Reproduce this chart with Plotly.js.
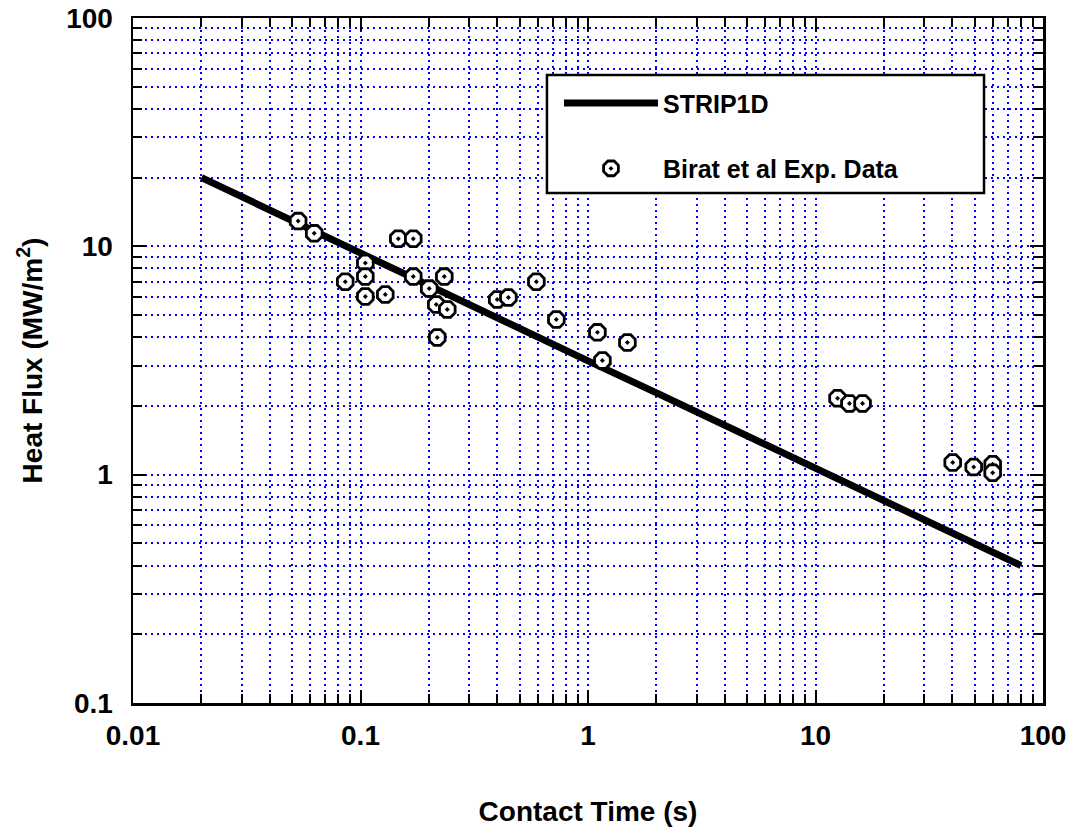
<!DOCTYPE html>
<html>
<head>
<meta charset="utf-8">
<script src="https://cdn.plot.ly/plotly-3.0.1.min.js"></script>
<style>html,body{margin:0;padding:0;background:#fff;}#chart{width:1079px;height:836px;}</style>
</head>
<body>
<div id="chart"></div>
<script>
// STRIP1D model curve
const modelTime = [0.02, 0.03, 0.05, 0.07, 0.1, 0.2, 0.3, 0.5, 0.7, 1, 2, 3, 5, 7, 10, 20, 30, 50, 80];
const modelFlux = [20, 16.5, 13.0, 11.1, 9.3, 6.7, 5.5, 4.3, 3.7, 3.15, 2.28, 1.88, 1.48, 1.26, 1.07, 0.77, 0.63, 0.50, 0.40];

// Birat et al experimental data
const expTime = [0.0532, 0.0626, 0.0857, 0.105, 0.105, 0.105, 0.1285, 0.1466, 0.1706, 0.1706, 0.2005, 0.2153, 0.2335, 0.2407, 0.2175, 0.399, 0.4467, 0.593, 0.726, 1.10, 1.157, 1.49, 12.5, 14.1, 16.1, 40.1, 49.6, 60.1, 60.1];
const expFlux = [12.9, 11.4, 7.0, 8.45, 7.37, 6.03, 6.15, 10.8, 10.8, 7.37, 6.53, 5.56, 7.37, 5.29, 3.99, 5.85, 5.97, 7.0, 4.78, 4.2, 3.16, 3.79, 2.16, 2.05, 2.05, 1.13, 1.08, 1.11, 1.02];

const xTickVals = [0.01, 0.1, 1, 10, 100];
const xTickText = ['0.01', '0.1', '1', '10', '100'];
const yTickVals = [0.1, 1, 10, 100];
const yTickText = ['0.1', '1', '10', '100'];

function minorVals(lo, hi) {
  const v = [];
  for (let d = lo; d < hi; d++) {
    for (let k = 2; k <= 9; k++) v.push(k * Math.pow(10, d));
  }
  return v;
}

const FONT = '"Liberation Sans", Arial, sans-serif';
const gridCol = '#0000ff';

const traces = [
  {
    x: modelTime, y: modelFlux, type: 'scatter', mode: 'lines',
    name: 'STRIP1D', legendgroup: 'a',
    line: {color: '#000000', width: 7}
  },
  {
    x: expTime, y: expFlux, type: 'scatter', mode: 'markers',
    name: 'Birat et al Exp. Data', legendgroup: 'b',
    marker: {symbol: 'octagon-dot', size: 17, color: '#ffffff', line: {color: '#000000', width: 2.8}}
  }
];

function axisCommon(tv, tt, mv) {
  return {
    type: 'log',
    tickmode: 'array', tickvals: tv, ticktext: tt,
    ticks: 'inside', ticklen: 13, tickwidth: 2, tickcolor: '#000',
    showline: true, linecolor: '#000', linewidth: 2.5, mirror: 'ticks',
    showgrid: true, gridcolor: gridCol, gridwidth: 2, griddash: '2px,4px',
    zeroline: false,
    tickfont: {family: FONT, size: 28, color: '#000', weight: 'bold'},
    minor: {
      tickmode: 'array', tickvals: mv,
      ticks: 'inside', ticklen: 9, tickwidth: 2, tickcolor: '#000',
      showgrid: true, gridcolor: gridCol, gridwidth: 2, griddash: '2px,4px'
    }
  };
}

const xa = axisCommon(xTickVals, xTickText, minorVals(-2, 2));
xa.range = [-2, 2];
xa.ticklabelstandoff = 6;
xa.title = {text: 'Contact Time (s)', font: {family: FONT, size: 28, color: '#000', weight: 'bold'}, standoff: 52};

const ya = axisCommon(yTickVals, yTickText, minorVals(-1, 2));
ya.range = [-1, 2];
ya.ticklabelstandoff = 12;
ya.title = {text: 'Heat Flux (MW/m<sup>2</sup>)', font: {family: FONT, size: 28, color: '#000', weight: 'bold'}, standoff: 16};

const layout = {
  width: 1079, height: 836,
  margin: {l: 133, r: 36, t: 18, b: 133, pad: 0},
  paper_bgcolor: '#fff', plot_bgcolor: '#fff',
  xaxis: xa, yaxis: ya,
  showlegend: true,
  legend: {
    x: 0.4681, y: 0.9093, xanchor: 'left', yanchor: 'top',
    bgcolor: 'rgba(0,0,0,0)', borderwidth: 0,
    itemwidth: 94, tracegroupgap: 30,
    font: {family: FONT, size: 25, color: '#000', weight: 'bold'}
  },
  shapes: [{
    type: 'rect', xref: 'paper', yref: 'paper',
    x0: 0.4549, x1: 0.9352, y0: 0.7445, y1: 0.9168,
    line: {color: '#000', width: 2.5}, fillcolor: '#fff', layer: 'above'
  }]
};

Plotly.newPlot('chart', traces, layout, {displayModeBar: false, staticPlot: true});
</script>
</body>
</html>
